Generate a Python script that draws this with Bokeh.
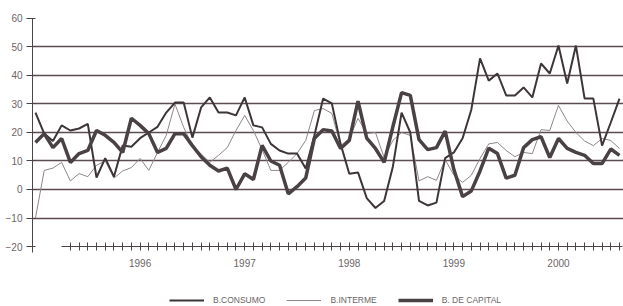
from bokeh.plotting import figure
from bokeh.models import Range1d, FixedTicker, Legend, LegendItem
from bokeh.embed import file_html
from bokeh.resources import INLINE

# Months: index 0 = Jan 1995 ... 67 = Aug 2000
months = list(range(68))
year_ticks = [12, 24, 36, 48, 60]
year_labels = ["1996", "1997", "1998", "1999", "2000"]
y_ticks = [-20, -10, 0, 10, 20, 30, 40, 50, 60]
grid_levels = [-10, 0, 10, 20, 30, 40, 50]

consumo = [27, 19.6, 17, 22.5, 20.7, 21.4, 23, 4.2, 11, 4.5,
           15.4, 15, 18, 20, 22, 27, 30.5, 30.5, 18.2, 28.8,
           32.3, 27, 27, 26, 32.3, 22.5, 21.8, 16, 13.7, 12.6,
           12.6, 7.4, 19, 31.9, 30.2, 16, 5.5, 6, -3, -6.5,
           -4, 8, 27, 20, -4, -5.6, -4.6, 11, 13, 18,
           28, 46, 38.2, 40.7, 33, 33, 35.8, 32.3, 44.2, 40.7,
           50.5, 37.2, 50.5, 31.9, 31.9, 15.4, 23.5, 31.9]

interme = [-10, 6.7, 7.5, 9.5, 3, 5.6, 4.5, 8.5, 10, 4,
           6.5, 7.7, 10.9, 6.7, 13, 19, 30, 21.8, 15.4, 12.5,
           9.5, 12, 14.7, 20.7, 26, 20.7, 14, 6.7, 6.7, 9.5,
           12.6, 17.2, 27.7, 28.4, 26.7, 15.4, 17.9, 25, 19.6, 20,
           11.2, 17.2, 20, 19, 3, 4.5, 3.2, 10.5, 5, 2.5,
           5, 10.9, 16, 16.5, 13.7, 11.5, 13, 12.6, 21, 20.7,
           29.5, 24, 20, 17, 15.4, 17.9, 17.2, 14.4]

capital = [16.5, 19.6, 14.7, 17.9, 9.5, 12.6, 13.7, 20.7, 19, 16.5,
           13, 25, 22.5, 19.6, 13, 14.4, 19.6, 19.6, 15.4, 11.5,
           8.5, 6.5, 7.5, 0, 5.5, 3.5, 15.5, 10, 8.5, -1.5,
           1, 4, 18, 21, 20.5, 14.4, 17.2, 31, 18, 14.4,
           9.5, 22, 34, 33, 17.5, 14, 14.7, 20.5, 7, -2.5,
           -0.5, 6.5, 14.5, 12.6, 4, 5, 14.7, 17.5, 18.5, 11.2,
           17.9, 14.4, 13, 12, 9.1, 9.1, 14.2, 12]

TXT = "#6b6466"
DARK = "#4e4347"

p = figure(width=623, height=306, output_backend="svg", toolbar_location=None,
           x_range=Range1d(-0.344, 67.46), y_range=Range1d(-41.05, 62.1),
           min_border_left=32, min_border_right=0, min_border_top=12,
           min_border_bottom=0)
p.outline_line_color = None
p.background_fill_color = "white"

# grid
p.xgrid.visible = False
p.ygrid.ticker = FixedTicker(ticks=grid_levels)
p.ygrid.grid_line_color = "#5d4b52"
p.ygrid.grid_line_width = 1.3

# y axis
p.yaxis.ticker = FixedTicker(ticks=y_ticks)
p.yaxis.bounds = (-22, 60)
p.yaxis.major_tick_out = 6
p.yaxis.major_tick_in = 3
p.yaxis.minor_tick_line_color = None
p.yaxis.axis_line_color = DARK
p.yaxis.major_tick_line_color = DARK
p.yaxis.major_label_text_font = "Liberation Sans"
p.yaxis.major_label_text_font_size = "10px"
p.yaxis.major_label_text_color = TXT
p.yaxis.major_label_standoff = 4

# x axis: drawn at y = -20, monthly ticks, year labels at January
p.xaxis.fixed_location = -20
p.xaxis.ticker = FixedTicker(ticks=list(range(4, 68)))
p.xaxis.bounds = (3, 67.4)
overrides = {i: "" for i in range(68)}
for t, lab in zip(year_ticks, year_labels):
    overrides[t] = lab
p.xaxis.major_label_overrides = overrides
p.xaxis.major_tick_in = 4
p.xaxis.major_tick_out = 4
p.xaxis.minor_tick_line_color = None
p.xaxis.axis_line_color = DARK
p.xaxis.major_tick_line_color = DARK
p.xaxis.axis_line_width = 1.2
p.xaxis.major_label_text_font = "Liberation Sans"
p.xaxis.major_label_text_font_size = "10px"
p.xaxis.major_label_text_color = TXT
p.xaxis.major_label_standoff = 8

r_int = p.line(months, interme, line_width=1, color="#8e8688")
r_con = p.line(months, consumo, line_width=2, color="#3d3538")
r_cap = p.line(months, capital, line_width=3.5, color="#4a4144")

legend = Legend(items=[LegendItem(label="B.CONSUMO", renderers=[r_con]),
                       LegendItem(label="B.INTERME", renderers=[r_int]),
                       LegendItem(label="B. DE CAPITAL", renderers=[r_cap])],
                orientation="horizontal", location=(136, 0),
                border_line_alpha=0, background_fill_alpha=0,
                glyph_width=35, glyph_height=10, label_standoff=9, spacing=21,
                padding=1, margin=0, label_height=10,
                label_text_font="Liberation Sans", label_text_font_size="8.5px",
                label_text_color=TXT)
p.add_layout(legend)

open("out.html", "w").write(file_html(p, INLINE))
